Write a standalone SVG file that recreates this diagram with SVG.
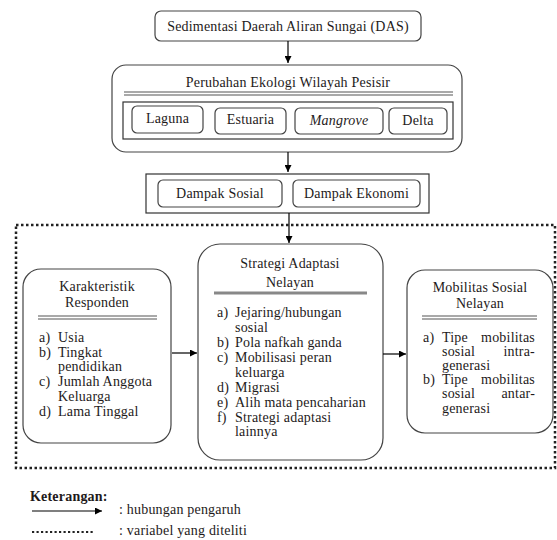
<svg xmlns="http://www.w3.org/2000/svg" width="557" height="540" viewBox="0 0 557 540">
<defs>
<marker id="ah" viewBox="0 0 10 10" refX="10" refY="5" markerWidth="7" markerHeight="7" markerUnits="userSpaceOnUse" orient="auto">
<path d="M0,0 L10,5 L0,10 Z" fill="#000"/>
</marker>
</defs>
<style>
text{font-family:'Liberation Serif','Times New Roman',serif;font-size:14px;letter-spacing:0.2px;fill:#1e1a1a}
.c{text-anchor:middle}
.e{text-anchor:end}
.box{fill:#fff;stroke:#444;stroke-width:1.2}
.sq{fill:#fff;stroke:#333;stroke-width:1.2}
.dl{stroke:#555;stroke-width:1.2}
.con{stroke:#000;stroke-width:1.2;fill:none}
.dot{fill:none;stroke:#222;stroke-width:2.5;stroke-dasharray:2.5 2.5}
</style>
<rect width="557" height="540" fill="#fff"/>

<g id="area-variabel">
<rect class="dot" x="16" y="225" width="539" height="243"/>
</g>

<g id="node-sedimentasi">
<rect class="box" x="155" y="11" width="266" height="30" rx="6"/>
<text class="c" x="288" y="30.5">Sedimentasi Daerah Aliran Sungai (DAS)</text>
</g>

<g id="node-perubahan">
<rect class="box" x="112" y="65" width="350" height="87" rx="14"/>
<text class="c" x="288" y="86.5">Perubahan Ekologi Wilayah Pesisir</text>
<line class="dl" x1="124" y1="92" x2="453" y2="92"/>
<line class="dl" x1="124" y1="95" x2="453" y2="95"/>
<rect class="sq" x="123" y="102" width="330" height="37"/>
</g>
<g id="node-laguna">
<rect class="box" x="132" y="106" width="71" height="27" rx="5"/>
<text class="c" x="167.5" y="123">Laguna</text>
</g>
<g id="node-estuaria">
<rect class="box" x="215" y="108" width="71" height="26" rx="5"/>
<text class="c" x="250.5" y="124">Estuaria</text>
</g>
<g id="node-mangrove">
<rect class="box" x="295" y="108" width="88" height="26" rx="5"/>
<text class="c" x="339" y="125" font-style="italic">Mangrove</text>
</g>
<g id="node-delta">
<rect class="box" x="389" y="108" width="58" height="26" rx="5"/>
<text class="c" x="418" y="125">Delta</text>
</g>

<g id="node-dampak">
<rect class="sq" x="146" y="174" width="283" height="39"/>
</g>
<g id="node-dampak-sosial">
<rect class="box" x="158" y="180" width="124" height="27" rx="5"/>
<text class="c" x="220" y="197.5">Dampak Sosial</text>
</g>
<g id="node-dampak-ekonomi">
<rect class="box" x="293" y="180" width="127" height="27" rx="5"/>
<text class="c" x="356.5" y="197.5">Dampak Ekonomi</text>
</g>

<g id="node-karakteristik">
<rect class="box" x="23" y="269" width="148" height="174" rx="18"/>
<text class="c" x="97" y="291">Karakteristik</text>
<text class="c" x="97" y="306.5">Responden</text>
<line class="dl" x1="38" y1="316" x2="157" y2="316"/>
<line class="dl" x1="38" y1="319" x2="157" y2="319"/>
<text x="39" y="341.5">a)</text><text x="58" y="341.5">Usia</text>
<text x="39" y="356.5">b)</text><text x="58" y="356.5">Tingkat</text>
<text x="58" y="371">pendidikan</text>
<text x="39" y="386">c)</text><text x="58" y="386">Jumlah Anggota</text>
<text x="58" y="400.5">Keluarga</text>
<text x="39" y="416">d)</text><text x="58" y="416">Lama Tinggal</text>
</g>

<g id="node-strategi">
<rect class="box" x="198" y="244" width="185" height="216" rx="22"/>
<text class="c" x="290" y="267.5">Strategi Adaptasi</text>
<text class="c" x="290" y="286.5">Nelayan</text>
<line x1="214" y1="293" x2="367" y2="293" stroke="#888" stroke-width="3"/>
<text x="217" y="317">a)</text><text x="235" y="317">Jejaring/hubungan</text>
<text x="235" y="332">sosial</text>
<text x="217" y="347">b)</text><text x="235" y="347">Pola nafkah ganda</text>
<text x="217" y="362">c)</text><text x="235" y="362">Mobilisasi peran</text>
<text x="235" y="377">keluarga</text>
<text x="217" y="391.5">d)</text><text x="235" y="391.5">Migrasi</text>
<text x="217" y="406.5">e)</text><text x="235" y="406.5">Alih mata pencaharian</text>
<text x="217" y="421.5">f)</text><text x="235" y="421.5">Strategi adaptasi</text>
<text x="235" y="436">lainnya</text>
</g>

<g id="node-mobilitas">
<rect class="box" x="407" y="270" width="146" height="163" rx="18"/>
<text class="c" x="480" y="291.5">Mobilitas Sosial</text>
<text class="c" x="480" y="307.5">Nelayan</text>
<line class="dl" x1="422" y1="316" x2="537" y2="316"/>
<line class="dl" x1="422" y1="319" x2="537" y2="319"/>
<text x="423" y="342">a)</text><text x="442" y="342">Tipe</text><text class="e" x="535" y="342">mobilitas</text>
<text x="442" y="356">sosial</text><text class="e" x="535" y="356">intra-</text>
<text x="442" y="370">generasi</text>
<text x="423" y="384">b)</text><text x="442" y="384">Tipe</text><text class="e" x="535" y="384">mobilitas</text>
<text x="442" y="398">sosial</text><text class="e" x="535" y="398">antar-</text>
<text x="442" y="413">generasi</text>
</g>

<g id="connectors">
<line class="con" x1="288" y1="41" x2="288" y2="63" marker-end="url(#ah)"/>
<line class="con" x1="288" y1="152" x2="288" y2="172" marker-end="url(#ah)"/>
<line class="con" x1="289" y1="213" x2="289" y2="243" marker-end="url(#ah)"/>
<line class="con" x1="172" y1="353" x2="197" y2="353" marker-end="url(#ah)"/>
<line class="con" x1="383" y1="354" x2="406" y2="354" marker-end="url(#ah)"/>
</g>

<g id="legend">
<text x="30" y="501" font-weight="bold">Keterangan:</text>
<line class="con" x1="32" y1="511" x2="102" y2="511" marker-end="url(#ah)"/>
<text x="119" y="514">: hubungan pengaruh</text>
<line x1="32" y1="532" x2="93" y2="532" stroke="#222" stroke-width="2" stroke-dasharray="2.2 2.3"/>
<text x="119" y="535">: variabel yang diteliti</text>
</g>
</svg>
